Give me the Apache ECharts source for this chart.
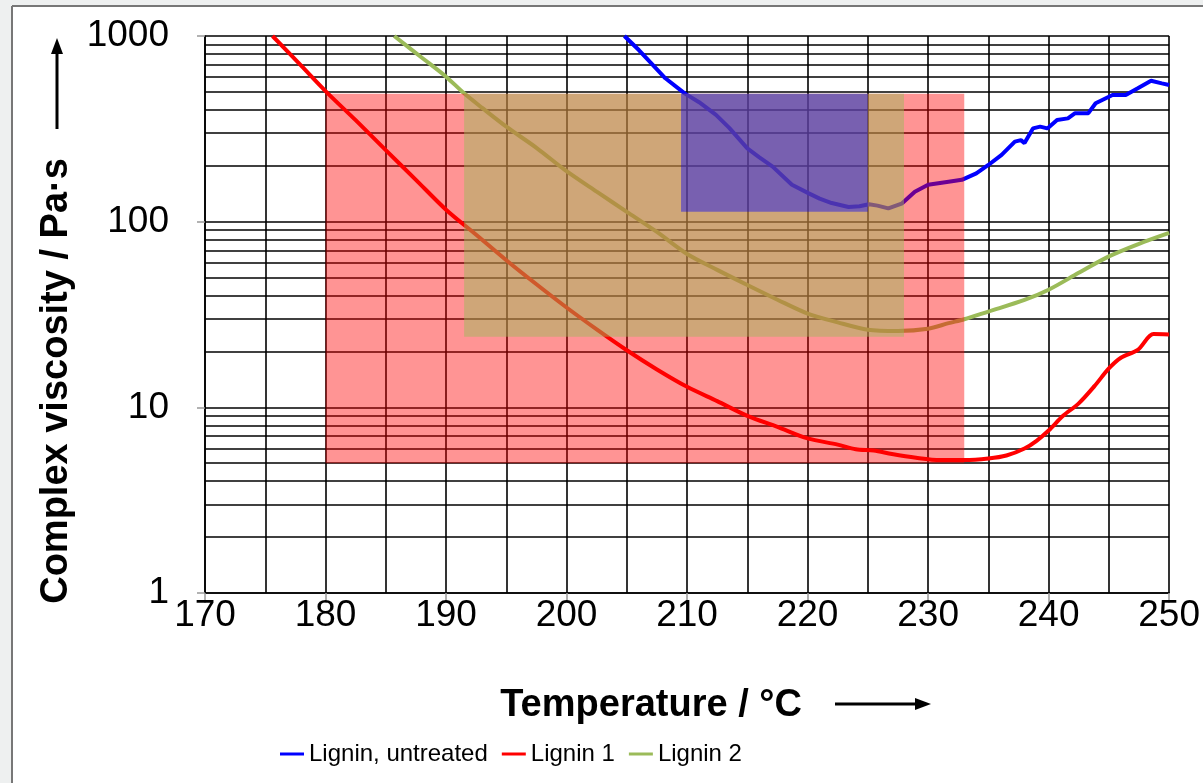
<!DOCTYPE html>
<html><head><meta charset="utf-8">
<script src="https://cdn.jsdelivr.net/npm/echarts@6/dist/echarts.min.js"></script>
<style>html,body{margin:0;padding:0;background:#fff}#c{width:1203px;height:783px}</style>
</head><body><div id="c"></div>
<script>
// ---- data ----
const seriesNames = ['Lignin, untreated', 'Lignin 1', 'Lignin 2'];
const seriesColors = ['#0000FF', '#FF0000', '#9BBB59'];

const untreatedT = [204.8, 206, 206.9, 208.2, 209.8, 211, 212.4, 213.5, 215, 216, 217.1, 218.7, 220.1, 221, 222, 223.4, 224.3, 225.1, 225.8, 226.7, 227.8, 228.9, 230, 231.7, 232.8, 234, 235, 236.1, 237.2, 237.7, 238, 238.7, 239.3, 239.9, 240.7, 241.6, 242.2, 243.3, 243.9, 245.3, 246.4, 247.4, 248.5, 249.4, 250];
const untreatedV = [1000, 840, 727, 592, 491, 440, 376, 320, 248, 222, 198, 158, 142, 133, 126, 120, 121, 124, 122, 118, 125, 145, 158, 164, 168, 182, 202, 229, 270, 275, 265, 318, 325, 318, 353, 360, 384, 384, 434, 481, 481, 523, 574, 556, 545];

const lignin1T = [175.6, 178, 180, 182.5, 185, 187.5, 190, 192.5, 195, 197.5, 200, 202.5, 205, 207.5, 210, 212.5, 215, 217.5, 220, 222.5, 224, 225.5, 227, 229, 231, 233, 235, 236.5, 238, 239, 240, 241.2, 242.5, 243.8, 245, 246, 247.4, 248.7, 250];
const lignin1V = [1000, 690, 505, 352, 243, 168, 116, 85, 62, 46, 34.5, 26.3, 20.3, 16.0, 12.9, 10.8, 9.0, 7.85, 6.8, 6.3, 5.95, 5.85, 5.6, 5.35, 5.2, 5.2, 5.3, 5.5, 6.0, 6.6, 7.5, 9, 10.5, 13, 16.2, 18.5, 20.4, 24.8, 24.7];

const lignin2T = [185.7, 188, 190, 191.5, 193, 195, 197.5, 200, 202.5, 205, 207.5, 210, 212.5, 215, 217.5, 220, 222.5, 225, 227.5, 230, 231.7, 233, 235, 238, 240, 242.5, 245, 247.5, 250];
const lignin2V = [1000, 764, 604, 491, 410, 325, 250, 187, 145, 113, 88, 67, 55, 45.6, 38, 32, 28.7, 26.2, 25.8, 26.5, 28.4, 29.8, 32.8, 37.9, 43, 53, 65, 76, 87];

// processing windows (shaded rectangles)
const windowColors = ['rgba(255,0,0,0.42)', 'rgba(155,187,89,0.48)', 'rgba(0,0,255,0.42)'];
const windowT1 = [180, 191.5, 209.5];
const windowT2 = [233, 228, 225];
const windowVLow = [5, 24, 113];
const windowVHigh = [488, 488, 488];

// axes
const xMin = 170, xMax = 250, xInterval = 10;
const yMin = 1, yMax = 1000;
const yMinorGrid = [2, 3, 4, 5, 6, 7, 8, 9, 20, 30, 40, 50, 60, 70, 80, 90, 200, 300, 400, 500, 600, 700, 800, 900];

const xTitle = 'Temperature / °C';
const yTitle = 'Complex viscosity / Pa·s';

// ---- chart ----
const zip = (a, b) => a.map((v, i) => [v, b[i]]);
const font = '"Liberation Sans", Arial, sans-serif';

const lineSeries = [zip(untreatedT, untreatedV), zip(lignin1T, lignin1V), zip(lignin2T, lignin2V)].map((d, i) => ({
  name: seriesNames[i],
  type: 'line',
  data: d,
  symbol: 'none',
  smooth: i === 0 ? false : 0.3,
  z: 2,
  lineStyle: { color: seriesColors[i], width: 4 },
  itemStyle: { color: seriesColors[i] },
  animation: false
}));

const gridHelper = {
  name: 'minor grid',
  type: 'line',
  data: [],
  symbol: 'none',
  silent: true,
  animation: false,
  markLine: {
    z: 1,
    silent: true,
    symbol: ['none', 'none'],
    label: { show: false },
    lineStyle: { color: '#000', width: 1.6, type: 'solid' },
    animation: false,
    data: yMinorGrid.map(v => ({ yAxis: v }))
  }
};

const windowHelper = {
  name: 'windows',
  type: 'line',
  data: [],
  symbol: 'none',
  silent: true,
  animation: false,
  markArea: {
    z: 10,
    silent: true,
    animation: false,
    label: { show: false },
    data: windowT1.map((t, i) => [
      { xAxis: t, yAxis: windowVHigh[i], itemStyle: { color: windowColors[i] } },
      { xAxis: windowT2[i], yAxis: windowVLow[i] }
    ])
  }
};

const chart = echarts.init(document.getElementById('c'), null, { renderer: 'canvas' });
chart.setOption({
  backgroundColor: '#ffffff',
  animation: false,
  textStyle: { fontFamily: font },
  grid: { left: 205, right: 32, top: 36, bottom: 190, containLabel: false },
  xAxis: {
    type: 'value', min: xMin, max: xMax, interval: xInterval,
    name: xTitle, nameLocation: 'middle', nameGap: 94,
    nameTextStyle: { fontFamily: font, fontSize: 38, fontWeight: 'bold', color: '#000', padding: [0, 72, 0, 0] },
    axisLine: { show: true, lineStyle: { color: '#000', width: 1.6 } },
    axisTick: { show: true, length: 10, lineStyle: { color: '#999', width: 1.5 } },
    axisLabel: { fontFamily: font, fontSize: 37, color: '#000', margin: 4 },
    splitLine: { show: true, lineStyle: { color: '#000', width: 1.6 } },
    minorTick: { show: false, splitNumber: 2 },
    minorSplitLine: { show: true, lineStyle: { color: '#000', width: 1.6 } }
  },
  yAxis: {
    type: 'log', logBase: 10, min: yMin, max: yMax,
    name: yTitle, nameLocation: 'middle', nameGap: 114, nameRotate: 90,
    nameTextStyle: { fontFamily: font, fontSize: 38, fontWeight: 'bold', color: '#000', padding: [0, 133, 0, 0] },
    axisLine: { show: true, lineStyle: { color: '#000', width: 1.6 } },
    axisTick: { show: true, length: 8, lineStyle: { color: '#999', width: 1.5 } },
    axisLabel: { fontFamily: font, fontSize: 37, color: '#000', margin: 36, formatter: v => String(v) },
    splitLine: { show: true, lineStyle: { color: '#000', width: 1.6 } }
  },
  legend: {
    data: seriesNames,
    left: 275, top: 737,
    itemWidth: 24, itemHeight: 3, itemGap: 14,
    icon: 'rect',
    textStyle: { fontFamily: font, fontSize: 24, color: '#000' }
  },
  graphic: [
    { type: 'rect', shape: { x: 0, y: 0, width: 1203, height: 6 }, style: { fill: '#eef0f0' }, silent: true },
    { type: 'rect', shape: { x: 0, y: 0, width: 12, height: 783 }, style: { fill: '#eef0f0' }, silent: true },
    { type: 'line', shape: { x1: 12, y1: 6, x2: 1203, y2: 6 }, style: { stroke: '#777', lineWidth: 2 }, silent: true },
    { type: 'line', shape: { x1: 12, y1: 6, x2: 12, y2: 783 }, style: { stroke: '#777', lineWidth: 2 }, silent: true },
    // x title arrow
    { type: 'line', shape: { x1: 835, y1: 704, x2: 918, y2: 704 }, style: { stroke: '#000', lineWidth: 3 }, silent: true },
    { type: 'polygon', shape: { points: [[931, 704], [915, 698], [915, 710]] }, style: { fill: '#000' }, silent: true },
    // y title arrow
    { type: 'line', shape: { x1: 57, y1: 129, x2: 57, y2: 52 }, style: { stroke: '#000', lineWidth: 3 }, silent: true },
    { type: 'polygon', shape: { points: [[57, 38], [51, 54], [63, 54]] }, style: { fill: '#000' }, silent: true }
  ],
  series: [gridHelper].concat(lineSeries, [windowHelper])
});
</script>
</body></html>
